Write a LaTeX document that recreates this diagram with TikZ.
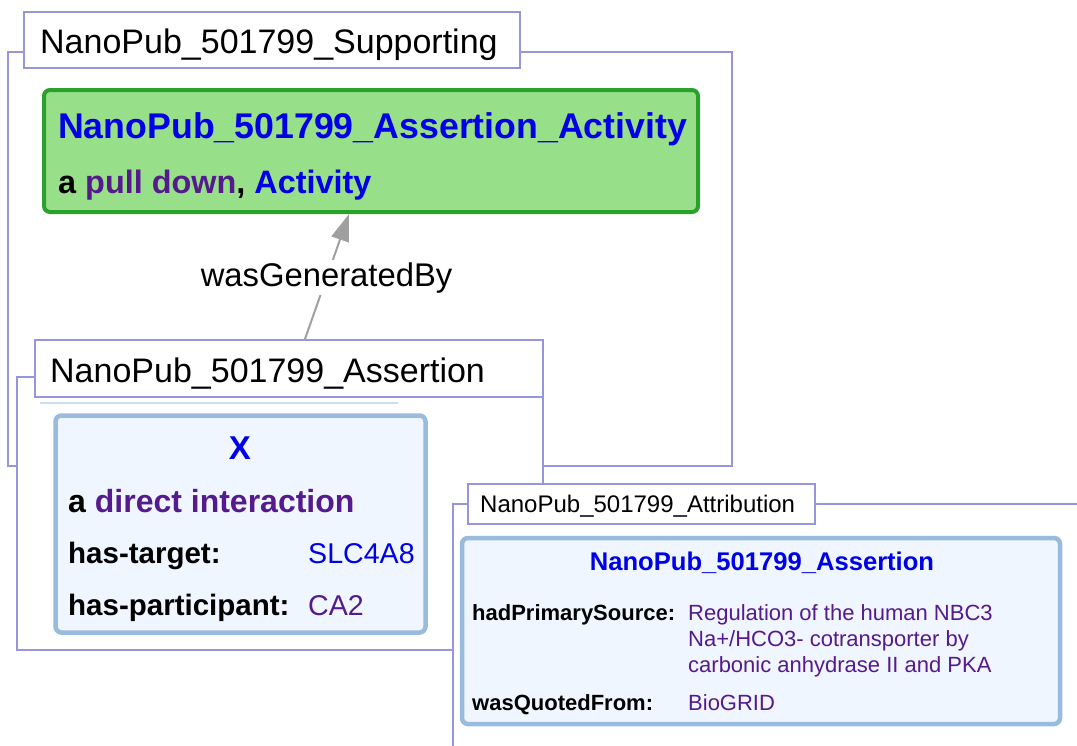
\documentclass[tikz,border=0pt]{standalone}
\usepackage{fontspec}
\setmainfont{Liberation Sans}
\usetikzlibrary{calc,arrows.meta}
\definecolor{frameC}{RGB}{150,150,222}
\definecolor{linkB}{RGB}{0,0,230}
\definecolor{linkP}{RGB}{85,26,139}
\definecolor{grBorder}{RGB}{44,160,44}
\definecolor{grFill}{RGB}{152,223,138}
\definecolor{blBorder}{RGB}{153,187,221}
\definecolor{blFill}{RGB}{239,246,255}
\definecolor{arrowC}{RGB}{160,160,160}
\definecolor{faintC}{RGB}{205,222,240}
\newcommand{\fs}[1]{\fontsize{#1}{#1}\selectfont}
\begin{document}
\begin{tikzpicture}[x=1pt,y=-1pt,
  gframe/.style={draw=frameC, line width=2pt, fill=white},
  glabel/.style={draw=frameC, line width=2pt, fill=white, rectangle, inner sep=0pt, anchor=north west},
  txt/.style={inner sep=0pt, anchor=base west},
  ctxt/.style={inner sep=0pt, anchor=base},
  greenbox/.style={draw=grBorder, line width=4pt, fill=grFill, rounded corners=6pt, rectangle, inner sep=0pt},
  bluebox/.style={draw=blBorder, line width=4.5pt, fill=blFill, rounded corners=6pt, rectangle, inner sep=0pt},
  genarrow/.style={draw=arrowC, line width=2pt, -{Triangle[length=27pt,width=18pt]}}
]
\useasboundingbox (0,0) rectangle (1077,745);

% Supporting graph
\draw[gframe] (8,52) rectangle (732,466);
\node[glabel, minimum width=496pt, minimum height=56pt] (suplabel) at (23,11) {};
\node[txt] (suptext) at (40,53) {\fs{34}NanoPub\_501799\_Supporting};

\node[greenbox, minimum width=654pt, minimum height=122pt] (activity) at (371,151) {};
\node[txt] (acttitle) at (58,138) {\fs{35.7}\bfseries\color{linkB}NanoPub\_501799\_Assertion\_Activity};
\node[txt] (acttype) at (58,193) {\fs{32.4}\bfseries a \textcolor{linkP}{pull down}, \textcolor{linkB}{Activity}};

% Assertion graph
\draw[gframe] (17,377) rectangle (543,650);
\node[glabel, minimum width=508pt, minimum height=57pt] (asslabel) at (34,339) {};
\node[txt] (asstext) at (50,382) {\fs{34}NanoPub\_501799\_Assertion};
\draw[faintC, line width=2pt] ($(asslabel.south west)+(6,5)$) coordinate (fa) -- ($(asslabel.south west)+(364,5)$) coordinate (fb);

\draw[genarrow] ($(asslabel.north west)+(271,0)$) -- node[pos=0.49, fill=white, inner sep=2pt] (genlabel) {\fs{32.8}wasGeneratedBy} ($(activity.south west)+(307,0)$);

\node[bluebox, minimum width=370pt, minimum height=217pt] (xnode) at (240.5,524) {};
\node[ctxt] (xtitle) at (240,459) {\fs{33}\bfseries\color{linkB}X};
\node[txt] (xtype) at (68,512) {\fs{32}\bfseries a \textcolor{linkP}{direct interaction}};
\node[txt] (xk1) at (68,563) {\fs{29.5}\bfseries has-target:};
\node[txt] (xv1) at (308,563) {\fs{28.6}\color{linkB}SLC4A8};
\node[txt] (xk2) at (68,615) {\fs{29.5}\bfseries has-participant:};
\node[txt] (xv2) at (308,615) {\fs{28.6}\color{linkP}CA2};

% Attribution graph
\draw[gframe] (453,504) rectangle (1095,765);
\node[glabel, minimum width=347pt, minimum height=40pt] (attlabel) at (467,483) {};
\node[txt] (atttext) at (480,512) {\fs{24}NanoPub\_501799\_Attribution};

\node[bluebox, minimum width=598pt, minimum height=186pt] (attnode) at (761,631) {};
\node[ctxt] (atttitle) at (762,570) {\fs{25.6}\bfseries\color{linkB}NanoPub\_501799\_Assertion};
\node[txt] (ak1) at (472,620) {\fs{22}\bfseries hadPrimarySource:};
\node[txt] (av1a) at (688,620) {\fs{22}\color{linkP}Regulation of the human NBC3};
\node[txt] (av1b) at (688,646) {\fs{22}\color{linkP}Na+/HCO3- cotransporter by};
\node[txt] (av1c) at (688,672) {\fs{22}\color{linkP}carbonic anhydrase II and PKA};
\node[txt] (ak2) at (472,710) {\fs{22}\bfseries wasQuotedFrom:};
\node[txt] (av2) at (688,710) {\fs{22}\color{linkP}BioGRID};
\end{tikzpicture}
\end{document}
